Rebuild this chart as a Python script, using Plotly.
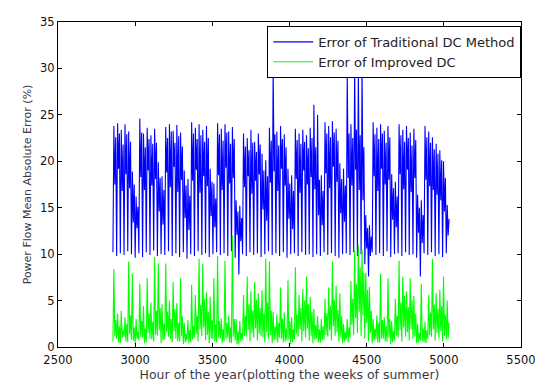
import plotly.graph_objects as go

# Hour of year of the first sample and spacing between samples (4 samples per day)
start_hour = 2856
step_hours = 6

# Error of Traditional DC Method (%), per day: [night low, morning high, midday dip, afternoon high]
trad_dc = [
    10.2, 23.8, 17.5, 22.6,  9.8, 24.1, 19.2, 23.0, 10.1, 23.4, 16.8, 21.8,  9.9, 24.0, 18.6, 22.9, 10.3, 23.2, 17.1, 22.1, 10.0, 18.9, 13.4, 17.5,  9.6, 16.2, 12.8, 15.1,
    10.1, 24.6, 18.3, 23.1,  9.7, 23.0, 16.9, 21.5, 10.2, 23.6, 19.0, 22.4,  9.9, 22.8, 17.4, 21.9, 10.4, 23.5, 18.1, 22.0,  9.8, 19.9, 14.6, 18.2, 10.0, 18.4, 13.2, 16.9,
     9.9, 23.7, 18.8, 22.5, 10.3, 24.0, 17.2, 23.2,  9.8, 23.3, 19.4, 22.0, 10.1, 23.9, 16.7, 22.7,  9.7, 23.1, 18.0, 21.6, 10.2, 19.0, 13.9, 17.4,  9.5, 18.1, 12.6, 16.3,
    10.0, 24.2, 17.9, 23.0,  9.8, 23.6, 19.1, 22.4, 10.3, 24.0, 16.6, 22.8,  9.9, 23.4, 18.4, 22.1, 10.1, 23.8, 17.3, 22.5,  9.7, 19.2, 14.1, 17.8, 10.0, 17.6, 12.9, 16.0,
    10.2, 24.1, 18.5, 22.9,  9.9, 23.5, 16.9, 22.2, 10.1, 24.0, 19.3, 23.1,  9.8, 23.2, 17.6, 21.9, 10.3, 23.7, 18.2, 22.4,  9.6, 15.8, 12.1, 14.6,  7.8, 15.2, 11.4, 13.9,
    10.0, 23.0, 17.2, 21.6,  9.8, 22.5, 18.4, 21.2, 10.2, 23.4, 16.5, 22.0,  9.9, 22.1, 17.9, 21.0, 10.1, 23.0, 18.6, 21.8,  9.7, 20.8, 14.8, 19.0, 10.0, 20.1, 13.6, 18.4,
    10.3, 23.6, 17.7, 22.2,  9.9, 30.2, 18.9, 22.9, 10.1, 23.2, 16.8, 21.7,  9.8, 23.8, 19.2, 22.4, 10.2, 22.9, 17.4, 21.5,  9.6, 19.2, 13.8, 17.6, 10.0, 18.5, 12.7, 16.8,
    10.1, 23.5, 18.1, 22.3,  9.8, 23.0, 16.6, 21.9, 10.2, 23.4, 19.0, 22.1,  9.9, 22.8, 17.5, 21.4, 10.0, 23.6, 18.3, 22.5,  9.7, 26.1, 17.0, 21.5, 10.0, 25.0, 14.2, 18.0,
     9.8, 18.5, 13.1, 16.8, 10.2, 24.2, 18.7, 23.0,  9.9, 23.8, 17.1, 22.6, 10.1, 24.3, 19.4, 23.1,  9.8, 23.5, 17.8, 22.2,  9.6, 19.8, 14.4, 18.1, 10.0, 19.2, 13.5, 17.4,
    10.1, 29.6, 18.2, 23.0,  9.9, 24.0, 17.4, 22.5, 10.2, 30.1, 19.1, 23.4,  9.8, 29.8, 16.9, 22.8, 10.0, 30.3, 15.8, 21.5,  8.9, 14.2, 10.6, 12.8,  7.6, 13.1,  9.8, 11.9,
    10.2, 24.2, 18.4, 22.9,  9.9, 23.6, 16.8, 22.4, 10.1, 24.0, 19.2, 23.0,  9.8, 23.3, 17.5, 22.0, 10.3, 23.8, 18.0, 22.6,  9.7, 18.6, 13.7, 17.1, 10.0, 17.8, 12.9, 16.2,
    10.1, 24.0, 18.6, 22.8,  9.8, 23.4, 17.0, 22.1, 10.2, 23.8, 19.1, 22.5,  9.9, 23.1, 16.7, 21.7, 10.0, 23.5, 18.2, 22.3,  9.6, 16.4, 12.3, 15.0,  7.6, 15.8, 11.2, 14.2,
    10.1, 23.8, 18.0, 22.6,  9.9, 23.2, 17.3, 22.0, 10.2, 22.6, 16.9, 21.3,  9.8, 21.9, 16.4, 20.8, 10.0, 21.2, 15.8, 20.1,  9.7, 20.0, 14.6, 18.2, 10.1, 15.3, 12.0, 13.8,
]

# Error of Improved DC (%), per day: [night low, peak, dip, afternoon]
improved_dc = [
    0.6, 8.4, 1.2, 2.9,  0.9, 3.6, 0.5, 2.2,  0.4, 3.9, 1.0, 1.8,  1.1, 3.2, 0.6, 2.5,  0.5, 9.2, 1.4, 3.4,  0.8, 7.9, 0.7, 2.1,  0.3, 3.0, 0.9, 1.6,
    0.7, 6.8, 1.1, 2.8,  1.0, 4.4, 0.4, 2.0,  0.5, 7.4, 1.5, 3.6,  0.9, 4.8, 0.8, 2.7,  0.6, 9.7, 1.3, 3.9,  1.2, 9.0, 1.8, 4.2,  0.4, 4.6, 0.7, 2.5,
    0.8, 9.0, 1.6, 3.8,  1.1, 5.0, 0.9, 3.0,  0.5, 7.0, 1.7, 4.1,  0.9, 4.7, 0.6, 2.6,  0.6, 7.4, 1.2, 3.3,  0.3, 2.6, 0.5, 1.4,  0.7, 2.9, 0.4, 1.8,
    0.5, 6.7, 0.8, 2.2,  1.0, 5.6, 1.4, 3.4,  0.6, 9.5, 1.9, 4.5,  1.2, 9.0, 2.1, 5.2,  0.7, 5.9, 1.3, 3.8,  0.4, 5.4, 0.9, 2.9,  0.8, 7.4, 0.6, 2.4,
    0.5, 9.8, 1.0, 2.8,  0.9, 3.1, 0.4, 1.9,  0.6, 9.3, 0.8, 2.6,  1.0, 3.4, 0.5, 2.1,  0.4, 12.0, 1.1, 3.0, 0.7, 3.0, 0.3, 1.7,  0.3, 2.8, 0.6, 1.5,
    0.8, 5.6, 1.2, 3.4,  1.1, 7.6, 1.8, 4.6,  0.6, 6.0, 1.5, 3.9,  1.0, 7.0, 2.0, 5.1,  0.7, 5.8, 1.4, 4.2,  1.2, 6.1, 1.0, 3.6,  0.5, 9.5, 1.6, 4.8,
    0.9, 9.2, 1.3, 3.9,  0.4, 3.8, 0.7, 2.2,  0.8, 3.5, 0.5, 2.6,  1.0, 6.4, 0.9, 3.1,  0.5, 3.7, 0.6, 2.0,  0.7, 7.2, 0.8, 2.8,  0.3, 3.2, 0.5, 1.9,
    0.8, 8.6, 1.4, 3.5,  1.1, 5.6, 1.9, 4.2,  0.6, 6.2, 1.7, 5.0,  1.0, 7.6, 2.0, 4.6,  0.7, 5.4, 1.2, 3.8,  0.4, 4.1, 0.8, 2.4,  0.9, 3.3, 0.5, 1.9,
    0.5, 3.0, 0.7, 2.2,  0.8, 5.2, 1.3, 3.6,  1.1, 6.4, 1.8, 4.4,  0.7, 9.2, 2.2, 5.1,  1.2, 6.6, 1.6, 4.0,  0.6, 5.8, 1.0, 3.3,  0.4, 2.5, 0.6, 1.6,
    0.8, 3.0, 0.5, 2.1,  1.0, 7.1, 2.4, 5.2,  1.3, 10.4, 3.1, 6.8, 1.5, 11.0, 3.8, 8.6, 1.2, 10.5, 3.4, 8.0, 0.9, 8.0, 2.6, 6.2,  0.6, 6.5, 1.5, 3.9,
    0.4, 3.0, 0.7, 2.0,  0.8, 3.4, 0.5, 2.6,  0.5, 7.9, 0.9, 2.9,  0.9, 3.2, 0.6, 2.2,  0.6, 7.4, 1.0, 3.0,  0.3, 2.8, 0.5, 1.7,  0.7, 5.2, 1.2, 3.4,
    1.0, 9.3, 1.8, 4.8,  0.6, 7.6, 2.1, 5.5,  1.1, 6.0, 1.6, 4.3,  0.7, 7.4, 1.9, 5.0,  0.9, 5.5, 1.1, 3.6,  0.4, 2.5, 0.5, 1.5,  0.7, 6.8, 0.6, 2.0,
    0.5, 2.7, 0.4, 1.8,  0.9, 5.6, 1.3, 3.7,  1.1, 9.5, 1.9, 4.6,  0.7, 5.8, 1.5, 4.1,  1.0, 6.2, 1.7, 4.4,  0.6, 7.6, 1.2, 3.5,  0.8, 5.0, 0.9, 2.6,
]

x_ticks = [2500, 3000, 3500, 4000, 4500, 5000, 5500]
y_ticks = [0, 5, 10, 15, 20, 25, 30, 35]

hours = [start_hour + step_hours * i for i in range(len(trad_dc))]

FONT = "DejaVu Sans, Arial"

fig = go.Figure()
fig.add_trace(go.Scatter(x=hours, y=trad_dc, mode="lines",
                         line=dict(color="#0000FF", width=1.1),
                         name="Error of Traditional DC Method"))
fig.add_trace(go.Scatter(x=hours, y=improved_dc, mode="lines",
                         line=dict(color="#00FF00", width=1.1),
                         name="Error of Improved DC"))

axis_common = dict(showline=True, linecolor="black", linewidth=1, mirror="ticks",
                   ticks="inside", ticklen=4, tickcolor="black", showgrid=False,
                   zeroline=False, tickfont=dict(family=FONT, size=11.5, color="#111"))

fig.update_xaxes(range=[2500, 5500], tickvals=x_ticks,
                 ticklabelstandoff=2,
                 title=dict(text="Hour of the year(plotting the weeks of summer)",
                            font=dict(family=FONT, size=12.5, color="#3a3a4a"),
                            standoff=0),
                 **axis_common)
fig.update_yaxes(range=[0, 35], tickvals=y_ticks,
                 title=dict(text="Power Flow Mean Absolute Error (%)",
                            font=dict(family=FONT, size=11, color="#3a3a4a"),
                            standoff=6),
                 **axis_common)

# The page body adds an 8 px offset, so the figure is sized to the remaining window
fig.update_layout(
    width=535, height=376,
    margin=dict(l=50, r=16, t=7, b=37),
    paper_bgcolor="white", plot_bgcolor="white",
    showlegend=True,
    legend=dict(x=0.452, y=0.988, xanchor="left", yanchor="top",
                bgcolor="white", bordercolor="black", borderwidth=1,
                font=dict(family=FONT, size=13, color="#222"),
                tracegroupgap=0, itemwidth=40),
)

fig.write_html("out.html")
